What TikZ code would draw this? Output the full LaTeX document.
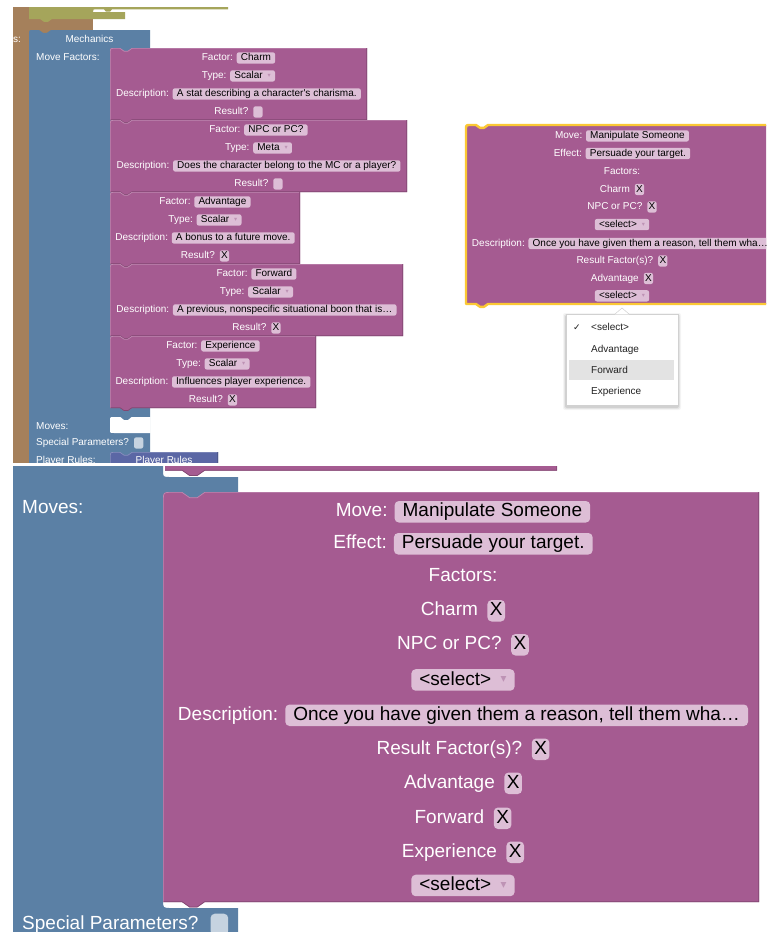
\documentclass[tikz,border=0pt]{standalone}
\usepackage{fontspec}
\setmainfont{Liberation Sans}
\newfontfamily\symfont{DejaVu Sans}

\definecolor{mauve}{HTML}{A55B91}
\definecolor{steel}{HTML}{5B80A5}
\definecolor{bark}{HTML}{A5805B}
\definecolor{moss}{HTML}{A5A55B}
\definecolor{slate}{HTML}{5B67A5}
\definecolor{fieldpink}{HTML}{DDBED6}
\definecolor{fieldblue}{HTML}{C6D3E0}
\definecolor{ddarrowc}{HTML}{BE93B5}
\definecolor{selyellow}{HTML}{FBC834}
\definecolor{menuhl}{HTML}{E3E3E3}
\definecolor{menutext}{HTML}{222222}

\newcommand\ftsmall{\fontsize{10}{12}\selectfont}
\newcommand\ftbig{\fontsize{19}{22}\selectfont}

\tikzset{
  fieldbox/.style={shape=rectangle, fill=fieldpink, draw=none, rounded corners=0.22em,
    inner xsep=0.42em, inner ysep=0.08em, text height=0.75em, text depth=0.22em,
    text=black, anchor=base, minimum width=0pt, minimum height=0pt, outer sep=0pt},
  lbl/.style={text=white, inner sep=0pt, anchor=base, font=\ftsmall},
  lblbig/.style={lbl, font=\ftbig},
  menuitem/.style={text=menutext, inner sep=0pt, anchor=base west, font=\ftsmall},
}

% inline editable fields
\newcommand\fld[1]{\tikz[baseline=(F.base)]\node[fieldbox](F){#1};}
\newcommand\xb{\hspace{0.5em}\tikz[baseline=(F.base)]\node[fieldbox, inner xsep=0.13em](F){X};}
\newcommand\cb{\hspace{0.5em}\tikz[baseline=(F.base)]\node[fieldbox, inner xsep=0.13em](F){\phantom{X}};}
\newcommand\cbb{\tikz[baseline=(F.base)]\node[fieldbox, fill=fieldblue, inner xsep=0.13em](F){\phantom{X}};}
\newcommand\ddarrow{\raisebox{0.12em}{\symfont\color{ddarrowc}\scalebox{0.62}{▾}}}
\newcommand\dd[1]{\tikz[baseline=(F.base)]\node[fieldbox](F){#1\hspace{0.5em}\ddarrow\hspace{0.25em}};}

% statement block outline: x1, y1, x2, y2, scale, path options
\newcommand\blkshape[6]{%
  \path[#6] ({#1},{#4}) -- ({#1},{#2+4.5*#5}) .. controls ({#1},{#2}) .. ({#1+4.5*#5},{#2})
    -- ({#1+10*#5},{#2}) -- ({#1+14*#5},{#2+2.8*#5}) -- ({#1+18*#5},{#2+2.8*#5}) -- ({#1+22*#5},{#2})
    -- ({#3},{#2}) -- ({#3},{#4})
    -- ({#1+22*#5},{#4}) -- ({#1+18*#5},{#4+2.8*#5}) -- ({#1+14*#5},{#4+2.8*#5}) -- ({#1+10*#5},{#4})
    -- cycle;}
% filled block with light top edge and dark lower edge
\newcommand\blk[6]{%
  \blkshape{#1}{#2}{#3}{#4}{#5}{fill=#6}
  \draw[#6!72!white, line width=0.7pt] ({#1+0.35},{#4}) -- ({#1+0.35},{#2+4.5*#5})
    .. controls ({#1+0.35},{#2+0.35}) .. ({#1+4.5*#5},{#2+0.35}) -- ({#1+10*#5},{#2+0.35})
    -- ({#1+14*#5},{#2+2.8*#5+0.35}) -- ({#1+18*#5},{#2+2.8*#5+0.35}) -- ({#1+22*#5},{#2+0.35}) -- ({#3-0.35},{#2+0.35});
  \draw[#6!78!black, line width=0.7pt] ({#3-0.35},{#2}) -- ({#3-0.35},{#4-0.35}) -- ({#1+22*#5},{#4-0.35})
    -- ({#1+18*#5},{#4+2.8*#5-0.35}) -- ({#1+14*#5},{#4+2.8*#5-0.35}) -- ({#1+10*#5},{#4-0.35}) -- ({#1+0.7},{#4-0.35});
}
% factor block: name, right edge, top, factor, type, description, result field
\newcommand\fblock[7]{%
  \blk{110}{#3}{#2}{#3+72}{1}{mauve}
  \node[lbl] (#1f) at ({(110+#2)/2},{#3+12.6}) {Factor: \fld{#4}};
  \node[lbl] (#1t) at ({(110+#2)/2},{#3+30.6}) {Type: \dd{#5}};
  \node[lbl] (#1d) at ({(110+#2)/2},{#3+48.6}) {Description: \fld{#6}};
  \node[lbl] (#1r) at ({(110+#2)/2},{#3+66.6}) {Result?#7};
}

\begin{document}
\begin{tikzpicture}[x=1pt,y=-1pt]
\useasboundingbox (0,0) rectangle (766,932);
\fill[white] (0,0) rectangle (766,932);

% ---------- upper workspace ----------
\begin{scope}
  \clip (0,0) rectangle (766,462.5);
  % outer brown block
  \fill[bark] (13,7) rectangle (29,463);
  \fill[bark] (29,7) rectangle (93,34);
  % olive block above
  \fill[moss] (29,7) -- (228,7) -- (228,9.3) -- (112,9.3) -- (110,11.7) -- (106,11.7) -- (104,9.3)
    -- (97,9.3) .. controls (93,9.3) .. (93,12) -- (125,12) -- (125,19) -- (52,19) -- (48,21.8)
    -- (44,21.8) -- (40,19) -- (29,19) -- cycle;
  % Mechanics block
  \fill[steel] (29,463) -- (29,34.5) .. controls (29,30) .. (33.5,30) -- (39,30) -- (43,32.8)
    -- (47,32.8) -- (51,30) -- (150,30) -- (150,463) -- cycle;
  % empty Moves input
  \fill[white] (150.5,417) -- (114,417) .. controls (110,417) .. (110,421) -- (110,429)
    .. controls (110,433) .. (114,433) -- (150.5,433) -- cycle;
  \fill[steel] (120,416.5) -- (124,419.8) -- (128,419.8) -- (132,416.5) -- cycle;

  % stacked factor blocks
  \fblock{ch}{367}{48}{Charm}{Scalar}{A stat describing a character\textquotesingle s charisma.}{\cb}
  \fblock{np}{407}{120}{NPC or PC?}{Meta}{Does the character belong to the MC or a player?}{\cb}
  \fblock{ad}{300}{192}{Advantage}{Scalar}{A bonus to a future move.}{\xb}
  \fblock{fw}{403}{264}{Forward}{Scalar}{A previous, nonspecific situational boon that is…}{\xb}
  \fblock{ex}{316}{336}{Experience}{Scalar}{Influences player experience.}{\xb}

  % Player Rules block
  \blk{110}{452}{218}{480}{1}{slate}

  % labels of the Mechanics block
  \node[lbl, anchor=base east] (sl) at (21,42.6) {s:};
  \node[lbl] (mech) at (89.5,42.6) {Mechanics};
  \node[lbl, anchor=base west] (mfac) at (36,60.1) {Move Factors:};
  \node[lbl, anchor=base west] (mvs) at (36,429.6) {Moves:};
  \node[lbl, anchor=base west] (spp) at (36,445.6) {Special Parameters?\hspace{5pt}\cbb};
  \node[lbl, anchor=base west] (prl) at (36,463) {Player Rules:};
  \node[lbl] (prb) at (164,463.6) {Player Rules};

  % selected Move block
  \blk{466}{125}{790}{304}{1}{mauve}
  \blkshape{466}{125}{790}{304}{1}{draw=selyellow, line width=2.4pt, line join=round}
  \node[lbl] (fmv) at (622,138.6) {Move: \fld{Manipulate Someone}};
  \node[lbl] (fef) at (622,156.1) {Effect: \fld{Persuade your target.}};
  \node[lbl] (ffa) at (622,174.1) {Factors:};
  \node[lbl] (fch) at (622,192.1) {Charm\xb};
  \node[lbl] (fnp) at (622,209.6) {NPC or PC?\xb};
  \node[lbl] (fs1) at (622,227.2) {\dd{<select>}};
  \node[lbl] (fde) at (622,246.1) {Description: \fld{Once you have given them a reason, tell them wha…}};
  \node[lbl] (frf) at (622,263.6) {Result Factor(s)?\xb};
  \node[lbl] (fad) at (622,281.1) {Advantage\xb};
  \node[lbl] (fs2) at (622,298.5) {\dd{<select>}};

  % open dropdown menu
  \foreach \d/\o in {3/0.04,2/0.06,1/0.09}
    \fill[black, opacity=\o, rounded corners=2pt] ({566-\d},{314-\d+2}) rectangle ({678+\d},{405+\d+2});
  \fill[white] (566,314) rectangle (678,405);
  \draw[black!18, line width=0.5pt] (566,314) rectangle (678,405);
  \fill[white] (615,314.3) -- (622,308) -- (629,314.3) -- cycle;
  \draw[black!18, line width=0.5pt] (615,314) -- (622,308) -- (629,314);
  \fill[menuhl] (569,360) rectangle (674,380);
  \node[text=menutext, inner sep=0pt, font=\symfont\fontsize{9}{10}\selectfont] (mck) at (577,327.5) {✓};
  \node[menuitem] (mi1) at (591,330.6) {<select>};
  \node[menuitem] (mi2) at (591,352.6) {Advantage};
  \node[menuitem] (mi3) at (591,373.6) {Forward};
  \node[menuitem] (mi4) at (591,394.6) {Experience};
\end{scope}

% ---------- lower workspace ----------
\begin{scope}
  \clip (0,466) rectangle (766,932);
  \fill[steel] (13,466) -- (163,466) -- (163,470) .. controls (163,477) .. (170,477) -- (238,477)
    -- (238,500) -- (163,500) -- (163,900) .. controls (163,908) .. (171,908) -- (238,908)
    -- (238,932) -- (13,932) -- cycle;
  % lower edge of the block above the input
  \fill[mauve] (165,460) -- (557,460) -- (557,470.5) -- (204.8,470.5) -- (197.2,475.8)
    -- (189.6,475.8) -- (182,470.5) -- (165,470.5) -- cycle;
  \draw[mauve!78!black, line width=0.7pt] (556.6,460) -- (556.6,470.2) -- (204.8,470.2)
    -- (197.2,475.5) -- (189.6,475.5) -- (182,470.2) -- (165,470.2);

  \blk{163}{492}{759}{902}{1.9}{mauve}
  \node[lblbig] (bmv) at (463,516.8) {Move: \fld{Manipulate Someone}};
  \node[lblbig] (bef) at (463,548.8) {Effect: \fld{Persuade your target.}};
  \node[lblbig] (bfa) at (463,581.8) {Factors:};
  \node[lblbig] (bch) at (463,615.8) {Charm\xb};
  \node[lblbig] (bnp) at (463,649.8) {NPC or PC?\xb};
  \node[lblbig] (bs1) at (463,685) {\dd{<select>}};
  \node[lblbig] (bde) at (463,720.3) {Description: \fld{Once you have given them a reason, tell them wha…}};
  \node[lblbig] (brf) at (463,754.3) {Result Factor(s)?\xb};
  \node[lblbig] (bad) at (463,788.3) {Advantage\xb};
  \node[lblbig] (bfw) at (463,823.3) {Forward\xb};
  \node[lblbig] (bex) at (463,857.3) {Experience\xb};
  \node[lblbig] (bs2) at (463,890.5) {\dd{<select>}};

  \node[lblbig, anchor=base west] (bmoves) at (22,513.3) {Moves:};
  \node[lblbig, anchor=base west] (bspp) at (22,929.5) {Special Parameters?\hspace{12pt}\cbb};
\end{scope}
\end{tikzpicture}
\end{document}
